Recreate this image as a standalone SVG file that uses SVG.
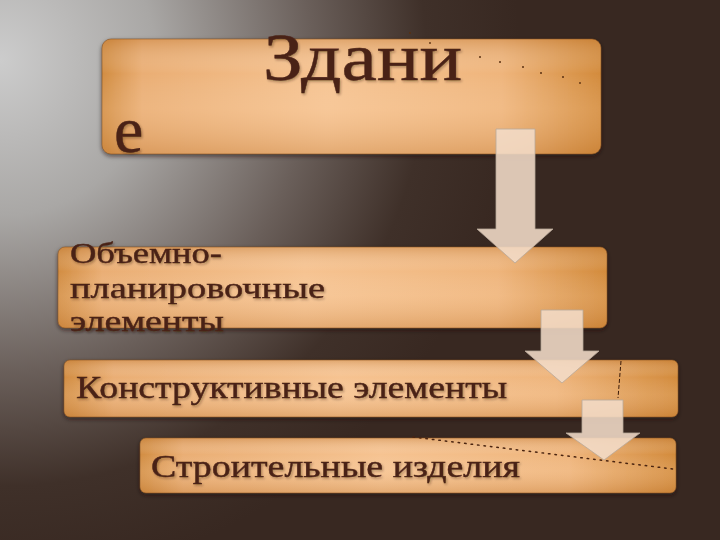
<svg xmlns="http://www.w3.org/2000/svg" width="720" height="540" viewBox="0 0 720 540">
<defs>
<radialGradient id="bg" cx="0" cy="60" r="520" gradientUnits="userSpaceOnUse">
<stop offset="0" stop-color="#cccccc"/>
<stop offset="0.3" stop-color="#a9a7a5"/>
<stop offset="0.6" stop-color="#6a5f5a"/>
<stop offset="0.82" stop-color="#3f3029"/>
<stop offset="1" stop-color="#382821"/>
</radialGradient>
<linearGradient id="boxH" x1="0" y1="0" x2="1" y2="0">
<stop offset="0" stop-color="#d28d42"/>
<stop offset="0.08" stop-color="#eaae74"/>
<stop offset="0.45" stop-color="#f6c391"/>
<stop offset="0.8" stop-color="#efb57c"/>
<stop offset="1" stop-color="#d38b3c"/>
</linearGradient>
<linearGradient id="boxV" x1="0" y1="0" x2="0" y2="1">
<stop offset="0" stop-color="#b8702a" stop-opacity="0.35"/>
<stop offset="0.3" stop-color="#ffffff" stop-opacity="0"/>
<stop offset="0.6" stop-color="#ffe0c0" stop-opacity="0.15"/>
<stop offset="1" stop-color="#b8702a" stop-opacity="0.3"/>
</linearGradient>
<filter id="sh" x="-5%" y="-10%" width="110%" height="130%">
<feDropShadow dx="0" dy="2" stdDeviation="2" flood-color="#1a0e08" flood-opacity="0.6"/>
</filter>
<filter id="tsh" x="-5%" y="-20%" width="110%" height="140%">
<feDropShadow dx="1.2" dy="1.5" stdDeviation="0.8" flood-color="#2a1208" flood-opacity="0.35"/>
</filter>
<style>
.box{stroke:#7a4a20;stroke-width:0.6}
.ov{fill:url(#boxV)}
.t{font-family:"Liberation Serif","DejaVu Serif",serif;fill:#4a2216;stroke:#4a2216;stroke-width:0.4;filter:url(#tsh)}
.arr{fill:#f2dcc8;fill-opacity:0.88;stroke:#b8a89a;stroke-width:0.8}
.dot{fill:#5a3010}
</style>
</defs>
<rect width="720" height="540" fill="#382821"/>
<rect width="720" height="540" fill="url(#bg)"/>

<g id="node-zdanie">
<g filter="url(#sh)"><rect class="box" x="102" y="39" width="499" height="115" rx="9" fill="url(#boxH)"/></g>
<rect class="ov" x="102" y="39" width="499" height="115" rx="9"/>
<text class="t" x="263" y="80" font-size="68" stroke-width="1" textLength="199" lengthAdjust="spacingAndGlyphs">Здани</text>
<text class="t" x="114" y="152" font-size="66" stroke-width="1">е</text>
<g class="dot">
<circle cx="410" cy="33" r="0.9"/><circle cx="430" cy="43" r="0.9"/><circle cx="480" cy="57" r="1"/><circle cx="500" cy="62" r="1"/><circle cx="523" cy="67" r="1"/><circle cx="541" cy="73" r="1"/><circle cx="563" cy="77" r="1"/><circle cx="580" cy="83" r="0.9"/>
</g>
</g>

<g id="node-obemno">
<g filter="url(#sh)"><rect class="box" x="58" y="247" width="549" height="81" rx="7" fill="url(#boxH)"/></g>
<rect class="ov" x="58" y="247" width="549" height="81" rx="7"/>
<text class="t" x="70" y="263" font-size="30" textLength="152" lengthAdjust="spacingAndGlyphs">Объемно-</text>
<text class="t" x="70" y="298" font-size="30" textLength="255" lengthAdjust="spacingAndGlyphs">планировочные</text>
<text class="t" x="70" y="331" font-size="30" textLength="154" lengthAdjust="spacingAndGlyphs">элементы</text>
</g>

<g id="node-konstr">
<g filter="url(#sh)"><rect class="box" x="64" y="360" width="614" height="57" rx="6" fill="url(#boxH)"/></g>
<rect class="ov" x="64" y="360" width="614" height="57" rx="6"/>
<text class="t" x="76" y="398" font-size="31" textLength="431" lengthAdjust="spacingAndGlyphs">Конструктивные элементы</text>
</g>

<g id="node-stroit">
<g filter="url(#sh)"><rect class="box" x="140" y="438" width="536" height="55" rx="6" fill="url(#boxH)"/></g>
<rect class="ov" x="140" y="438" width="536" height="55" rx="6"/>
<text class="t" x="151" y="477" font-size="31" textLength="369" lengthAdjust="spacingAndGlyphs">Строительные изделия</text>
</g>

<g id="connectors">
<path class="arr" d="M496 129 H535 V229 H553 L515 263 L477 229 H496 Z"/>
<path class="arr" d="M541 310 H583 V351 H599 L562 383 L525 351 H541 Z"/>
<path class="arr" d="M582 400 H623 V433 H640 L604 460 L566 433 H582 Z"/>
<line x1="621" y1="361" x2="618" y2="398" stroke="#3a1a08" stroke-width="1" stroke-dasharray="4 2"/>
<line x1="413" y1="437" x2="673" y2="469" stroke="#4a2410" stroke-width="1.5" stroke-dasharray="1.5 5" stroke-linecap="round"/>
</g>
</svg>
